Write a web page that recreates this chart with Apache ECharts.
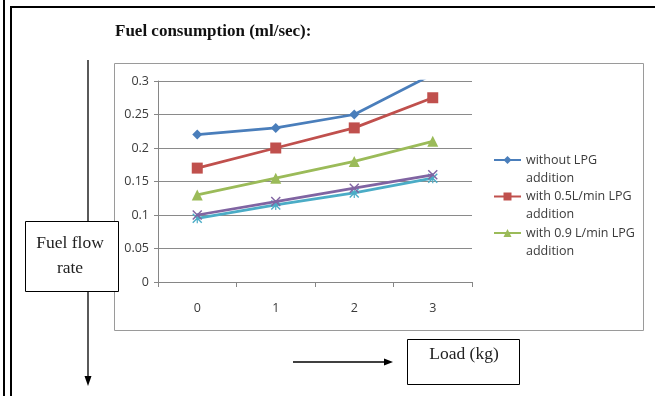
<!DOCTYPE html>
<html>
<head>
<meta charset="utf-8">
<script src="https://cdn.jsdelivr.net/npm/echarts@6/dist/echarts.min.js"></script>
<style>
  html, body { margin: 0; padding: 0; background: #fff; }
  #chart { width: 655px; height: 396px; }
</style>
</head>
<body>
<div id="chart"></div>
<script>
// Load steps on the x axis
const loads = ['0', '1', '2', '3'];

// Fuel consumption (ml/sec) per LPG setting
const withoutLpg = [0.22, 0.23, 0.25, 0.31];
const lpg05 = [0.17, 0.20, 0.23, 0.275];
const lpg09 = [0.13, 0.155, 0.18, 0.21];
const lpg12 = [0.10, 0.12, 0.14, 0.16];
const lpg15 = [0.095, 0.115, 0.133, 0.155];

const seriesNames = [
  'without LPG addition',
  'with 0.5L/min LPG addition',
  'with 0.9 L/min LPG addition',
  'with 1.2 L/min LPG addition',
  'with 1.5 L/min LPG addition'
];
const legendNames = seriesNames.slice(0, 3);
// wrapped legend text; the leading blank line keeps the icon level with the first line
const legendLabels = {
  'without LPG addition': ' \nwithout LPG\naddition',
  'with 0.5L/min LPG addition': ' \nwith 0.5L/min LPG\naddition',
  'with 0.9 L/min LPG addition': ' \nwith 0.9 L/min LPG\naddition'
};

// Y axis range
const yMin = 0, yMax = 0.3, yStep = 0.05;

const colors = ['#4A7EBB', '#C0504D', '#9BBB59', '#8064A2', '#4BACC6'];
const crossPath = 'path://M0,1 L1,0 L5,4 L9,0 L10,1 L6,5 L10,9 L9,10 L5,6 L1,10 L0,9 L4,5 Z';
const starPath = 'path://M0,1 L1,0 L5,4 L9,0 L10,1 L6,5 L10,9 L9,10 L5,6 L1,10 L0,9 L4,5 Z M4.4,0 L5.6,0 L5.6,10 L4.4,10 Z';
const symbols = ['diamond', 'rect', 'triangle', crossPath, starPath];
const symbolSizes = [10, 11, 11, 10, 10];
const values = [withoutLpg, lpg05, lpg09, lpg12, lpg15];

const chart = echarts.init(document.getElementById('chart'), null, { renderer: 'canvas' });

const serif = '"Liberation Serif", "Times New Roman", serif';
const sans = '"Open Sans", "Liberation Sans", sans-serif';

const option = {
  animation: false,
  backgroundColor: '#ffffff',
  color: colors,
  grid: { left: 158, right: 183, top: 81, bottom: 114, containLabel: false },
  xAxis: {
    type: 'category',
    data: loads,
    boundaryGap: true,
    axisLine: { lineStyle: { color: '#868686', width: 1 } },
    axisTick: { show: true, length: 5, lineStyle: { color: '#868686' } },
    axisLabel: { margin: 20, color: '#3a3a3a', fontFamily: sans, fontSize: 12.5 },
    splitLine: { show: false }
  },
  yAxis: {
    type: 'value',
    min: yMin,
    max: yMax,
    interval: yStep,
    axisLine: { show: true, lineStyle: { color: '#868686', width: 1 } },
    axisTick: { show: true, length: 4, lineStyle: { color: '#868686' } },
    axisLabel: { margin: 9, color: '#3a3a3a', fontFamily: sans, fontSize: 12.5 },
    splitLine: { show: true, lineStyle: { color: '#8a8a8a', width: 1 } }
  },
  legend: {
    data: legendNames,
    orient: 'vertical',
    left: 493,
    top: 133,
    padding: 0,
    itemWidth: 27,
    itemHeight: 10,
    itemGap: -17.5,
    formatter: function (name) { return legendLabels[name] || name; },
    textStyle: {
      fontFamily: sans,
      fontSize: 12.5,
      color: '#3a3a3a',
      lineHeight: 18
    }
  },
  series: values.map(function (vals, i) {
    return {
      name: seriesNames[i],
      type: 'line',
      data: vals,
      clip: true,
      symbol: symbols[i],
      symbolSize: symbolSizes[i],
      lineStyle: { width: 2.75, color: colors[i] },
      itemStyle: { color: colors[i] },
      z: 10 - i
    };
  }),
  graphic: [
    // double rule on the left and the top rule
    { type: 'line', shape: { x1: 4, y1: 0, x2: 4, y2: 396 }, style: { stroke: '#000', lineWidth: 2 } },
    { type: 'line', shape: { x1: 11, y1: 6, x2: 11, y2: 396 }, style: { stroke: '#000', lineWidth: 2 } },
    { type: 'line', shape: { x1: 10, y1: 7, x2: 655, y2: 7 }, style: { stroke: '#000', lineWidth: 2 } },
    // chart area frame
    { type: 'rect', shape: { x: 114.5, y: 63.5, width: 529, height: 267 }, style: { fill: 'none', stroke: '#9a9a9a', lineWidth: 1 }, z: -1 },
    // title
    { type: 'text', left: 115, top: 23, style: { text: 'Fuel consumption (ml/sec):', font: 'bold 17px ' + serif, fill: '#111' } },
    // vertical arrow (fuel flow rate)
    { type: 'line', shape: { x1: 88, y1: 60, x2: 88, y2: 221 }, style: { stroke: '#000', lineWidth: 1.3 } },
    { type: 'line', shape: { x1: 88, y1: 291, x2: 88, y2: 378 }, style: { stroke: '#000', lineWidth: 1.3 } },
    { type: 'polygon', shape: { points: [[84.5, 376], [91.5, 376], [88, 386]] }, style: { fill: '#000' } },
    { type: 'rect', shape: { x: 25.5, y: 221.5, width: 93, height: 70 }, style: { fill: '#fff', stroke: '#000', lineWidth: 1 } },
    { type: 'text', x: 70, y: 243, style: { text: 'Fuel flow', font: '17.5px ' + serif, fill: '#222', align: 'center', verticalAlign: 'middle' } },
    { type: 'text', x: 70, y: 268, style: { text: 'rate', font: '17.5px ' + serif, fill: '#222', align: 'center', verticalAlign: 'middle' } },
    // horizontal arrow (load)
    { type: 'line', shape: { x1: 293, y1: 362, x2: 386, y2: 362 }, style: { stroke: '#000', lineWidth: 1.3 } },
    { type: 'polygon', shape: { points: [[384, 358.5], [384, 365.5], [393, 362]] }, style: { fill: '#000' } },
    { type: 'rect', shape: { x: 407.5, y: 339.5, width: 112, height: 45 }, style: { fill: '#fff', stroke: '#000', lineWidth: 1 } },
    { type: 'text', x: 464, y: 354, style: { text: 'Load (kg)', font: '17.5px ' + serif, fill: '#222', align: 'center', verticalAlign: 'middle' } }
  ]
};

chart.setOption(option);
</script>
</body>
</html>
